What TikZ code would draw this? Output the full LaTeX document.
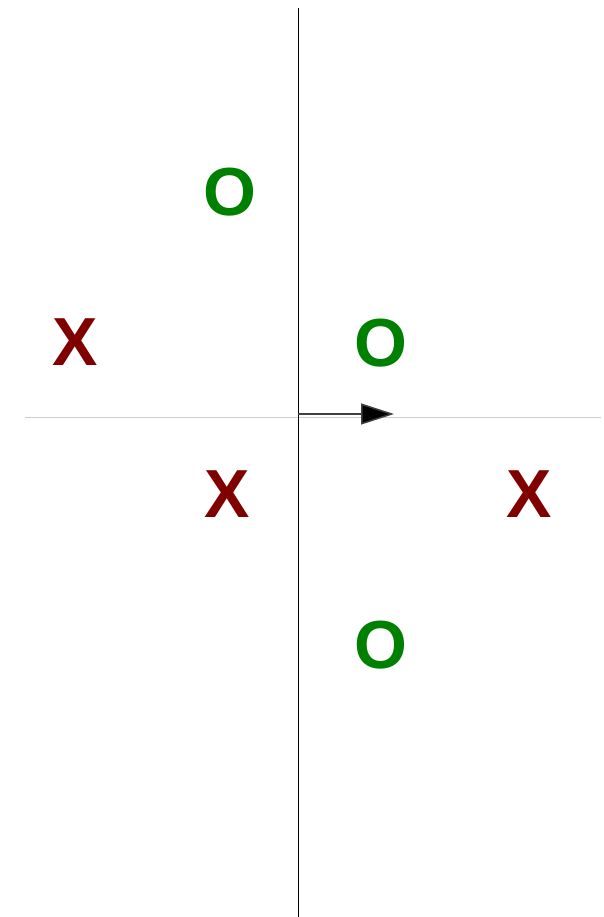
\documentclass[tikz,border=0pt]{standalone}
\usepackage{fontspec}
\setmainfont{Liberation Sans}
\usetikzlibrary{arrows.meta}
\definecolor{ogreen}{RGB}{0,128,0}
\definecolor{xred}{RGB}{128,0,0}
\tikzset{
  omark/.style={inner sep=0pt, text=ogreen, font=\fontsize{68}{68}\selectfont\bfseries},
  xmark/.style={inner sep=0pt, text=xred, font=\fontsize{68}{68}\selectfont\bfseries},
  haxis/.style={draw=black!20, line width=1pt},
  vaxis/.style={draw=black, line width=1pt},
  vec/.style={draw=black!75, line width=1.5pt, -{Triangle[length=33pt,width=21pt,fill=black]}}
}
\begin{document}
\begin{tikzpicture}[x=1pt,y=-1pt]
  \useasboundingbox (0,0) rectangle (603,917);
  % axes
  \coordinate (hl) at (25,417);
  \coordinate (hr) at (601,417);
  \coordinate (vt) at (298,8);
  \coordinate (vb) at (298,917);
  \draw[haxis] (hl) -- (hr);
  \draw[vaxis] (vt) -- (vb);
  % direction vector
  \coordinate (org) at (298,414);
  \coordinate (tip) at (394,414);
  \draw[vec] (org) -- (tip);
  % marks
  \node[omark] (o1) at (230,192) {O};
  \node[xmark] (x1) at (75,342) {X};
  \node[omark] (o2) at (381,343) {O};
  \node[xmark] (x2) at (227,494) {X};
  \node[xmark] (x3) at (529,494) {X};
  \node[omark] (o3) at (381,645) {O};
\end{tikzpicture}
\end{document}
